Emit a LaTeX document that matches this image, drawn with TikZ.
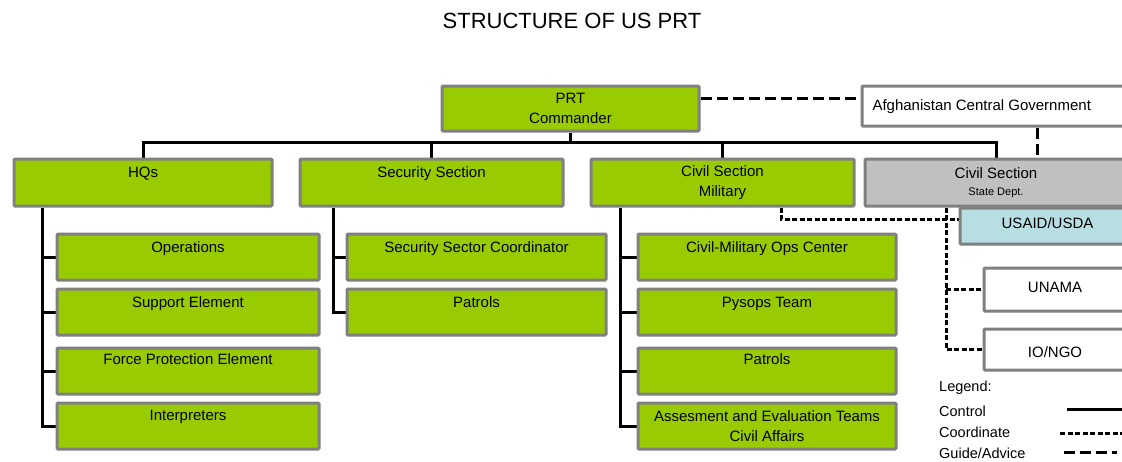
\documentclass[tikz,border=0pt]{standalone}
\usepackage{fontspec}
\setmainfont{Liberation Sans}
\usetikzlibrary{backgrounds}
\definecolor{pgreen}{HTML}{99CC00}
\definecolor{bgray}{HTML}{808080}
\definecolor{sgray}{HTML}{C0C0C0}
\definecolor{lblue}{HTML}{B7DEE2}
\begin{document}
\begin{tikzpicture}[x=1pt,y=-1pt,
 box/.style={draw=bgray, line width=3pt, rounded corners=1pt, fill=pgreen, inner xsep=2pt, inner ysep=0pt, anchor=north west, font=\fontsize{15}{20}\selectfont},
 tb/.style 2 args={text height=#1pt, text depth=#2pt},
 ctrl/.style={line width=3pt, black},
 coord/.style={line width=3pt, dash pattern=on 5pt off 2.5pt},
 guide/.style={line width=3pt, dash pattern=on 11pt off 5pt},
 lbl/.style={font=\fontsize{14.5}{17}\selectfont, anchor=west, inner sep=0pt}
]
\useasboundingbox (0,0) rectangle (1122,461);

\node[font=\fontsize{22}{26}\selectfont] (title) at (572,21) {STRUCTURE OF US PRT};

% row 1
\node[box, minimum width=257pt, minimum height=45pt, align=center] (prt) at (440.5,84.5) {PRT\\Commander};
\node[box, fill=white, inner xsep=10.5pt, tb={24}{16}] (afg) at (860.5,84.5) {\makebox[250pt][l]{Afghanistan Central Government}};

% row 2
\node[box, fill=lblue, minimum width=175pt, tb={20}{16}] (usa) at (958.5,206.5) {USAID/USDA};
\node[box, minimum width=258pt, tb={18}{29}] (hq) at (12.5,157.5) {HQs};
\node[box, minimum width=263pt, tb={18}{29}] (sec) at (298.5,157.5) {Security Section};
\node[box, minimum width=263pt, minimum height=47pt, align=center] (cm) at (589.5,157.5) {Civil Section\\Military};
\node[box, fill=sgray, minimum width=262pt, minimum height=47pt, align=center] (css) at (863.5,157.5) {Civil Section\\[-3pt]{\fontsize{11}{13}\selectfont State Dept.}};

\node[box, fill=white, minimum width=142pt, tb={24}{19}] (un) at (982.5,266.5) {UNAMA};
\node[box, fill=white, minimum width=142pt, tb={28}{13}] (io) at (982.5,327.5) {IO/NGO};

% HQs children
\node[box, minimum width=262pt, tb={18}{28}] (h1) at (55.5,232.5) {Operations};
\node[box, minimum width=262pt, tb={18}{28}] (h2) at (55.5,287.5) {Support Element};
\node[box, minimum width=262pt, tb={16}{30}] (h3) at (55.5,346.5) {Force Protection Element};
\node[box, minimum width=262pt, tb={17}{29}] (h4) at (55.5,401.5) {Interpreters};

% Security children
\node[box, minimum width=259pt, tb={18}{28}] (s1) at (345.5,232.5) {Security Sector Coordinator};
\node[box, minimum width=259pt, tb={18}{28}] (s2) at (345.5,287.5) {Patrols};

% Civil Military children
\node[box, minimum width=258pt, tb={18}{28}] (c1) at (636.5,232.5) {Civil-Military Ops Center};
\node[box, minimum width=258pt, tb={18}{28}] (c2) at (636.5,287.5) {Pysops Team};
\node[box, minimum width=258pt, tb={16}{30}] (c3) at (636.5,346.5) {Patrols};
\node[box, minimum width=258pt, minimum height=46pt, align=center] (c4) at (636.5,401.5) {Assesment and Evaluation Teams\\Civil Affairs};

% coordinates
\coordinate (busy) at (0,142.5);
\coordinate (hx) at (42.5,0);
\coordinate (sx) at (333,0);
\coordinate (cx) at (620.5,0);
\coordinate (k1) at (781,219);
\coordinate (k2) at (946,0);
\coordinate (g1) at (0,98);
\coordinate (g2) at (1037,0);

\begin{scope}[on background layer]
\draw[ctrl] (prt.south) -- (prt.south |- busy);
\draw[ctrl] (hq.north) |- (busy -| css.north) -- (css.north);
\draw[ctrl] (sec.north) -- (sec.north |- busy);
\draw[ctrl] (cm.north) -- (cm.north |- busy);

\draw[ctrl] (hq.south -| hx) |- (h4.west);
\foreach \n in {h1,h2,h3} \draw[ctrl] (hx |- \n.west) -- (\n.west);
\draw[ctrl] (sec.south -| sx) |- (s2.west);
\draw[ctrl] (sx |- s1.west) -- (s1.west);
\draw[ctrl] (cm.south -| cx) |- (c4.west);
\foreach \n in {c1,c2,c3} \draw[ctrl] (cx |- \n.west) -- (\n.west);

\draw[coord] (cm.south -| k1) |- (usa.west |- k1);
\draw[coord] (css.south -| k2) |- (io.west);
\draw[coord] (k2 |- un.west) -- (un.west);

\draw[guide] (prt.east |- g1) -- (afg.west |- g1);
\draw[guide] (afg.south -| g2) -- (css.north -| g2);
\end{scope}

% legend
\node[lbl] (lg) at (939,388) {Legend:};
\node[lbl] (lc) at (939,411) {Control};
\node[lbl] (lco) at (939,432) {Coordinate};
\node[lbl] (lga) at (939,453) {Guide/Advice};
\coordinate (l1a) at (1067,409);
\coordinate (l1b) at (1126,409);
\coordinate (l2a) at (1060,433);
\coordinate (l2b) at (1126,433);
\coordinate (l3a) at (1064,452);
\coordinate (l3b) at (1117,452);
\draw[ctrl] (l1a) -- (l1b);
\draw[coord] (l2a) -- (l2b);
\draw[guide] (l3a) -- (l3b);
\end{tikzpicture}
\end{document}
